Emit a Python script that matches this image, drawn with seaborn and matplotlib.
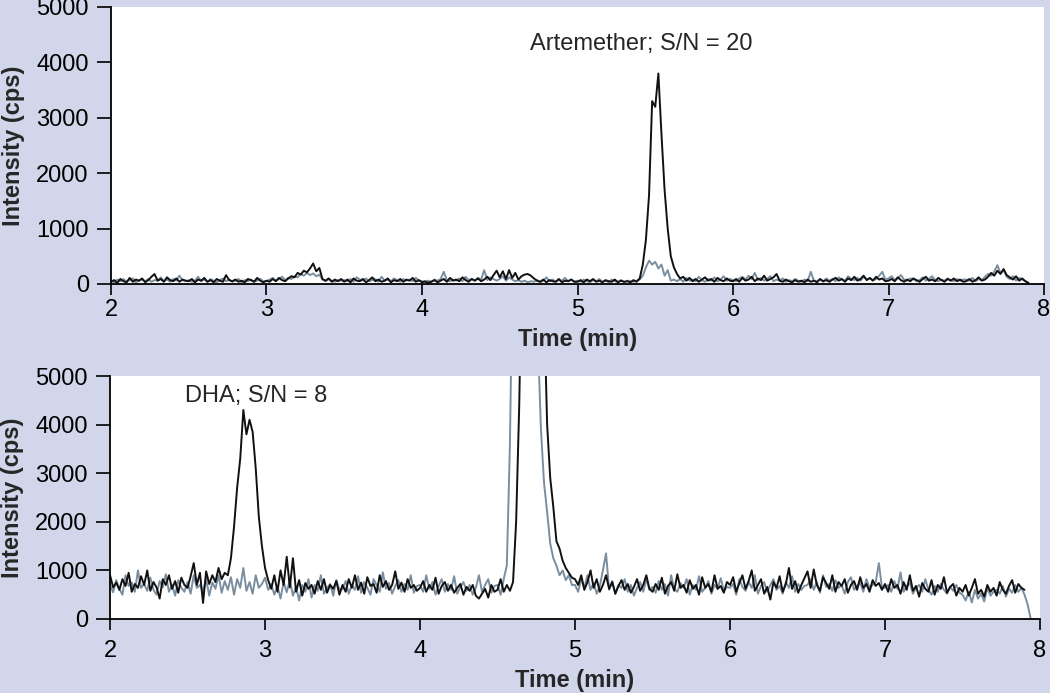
import numpy as np
import pandas as pd
import matplotlib.pyplot as plt
import seaborn as sns

nan = np.nan

# sampling grid of the chromatograms (min), 2.00 .. 7.98
time_min = np.round(2 + 0.02 * np.arange(300), 2)

# upper panel: artemether channel (cps), 25 points per 0.5 min
artemether_sample = [
    40, 70, 20, 90, 50, 30, 110, 40, 80, 60, 100, 30, 70, 130, 180, 60, 90, 40, 120, 70, 50, 100, 40, 80, 60,
    50, 90, 30, 80, 60, 110, 40, 70, 30, 90, 60, 40, 160, 70, 50, 80, 40, 60, 30, 90, 70, 40, 110, 60, 30,
    60, 40, 90, 50, 110, 70, 50, 100, 140, 120, 200, 170, 240, 210, 280, 370, 230, 290, 90, 60, 100, 40, 80, 50, 90,
    40, 80, 30, 100, 60, 50, 90, 30, 70, 120, 50, 80, 40, 60, 100, 30, 70, 50, 90, 40, 80, 60, 110, 40, 70,
    30, 50, 20, 40, 70, 30, 60, 90, 40, 110, 60, 80, 50, 120, 70, 40, 90, 60, 100, 50, 80, 130, 70, 160, 240,
    120, 230, 90, 250, 110, 200, 80, 140, 170, 180, 150, 100, 60, 40, 80, 30, 70, 50, 40, 90, 30, 60, 50, 80, 40,
    40, 70, 30, 80, 50, 90, 40, 60, 30, 70, 50, 40, 80, 30, 60, 40, 50, 30, 70, 40, 100, 350, 800, 1600, 3300,
    3200, 3800, 2700, 1700, 1000, 500, 300, 180, 100, 130, 60, 110, 50, 90, 40, 80, 120, 60, 90, 40, 110, 70, 50, 100, 60,
    50, 90, 40, 110, 60, 80, 130, 50, 100, 70, 150, 60, 90, 120, 180, 60, 40, 80, 50, 30, 70, 40, 60, 30, 80,
    40, 60, 30, 90, 50, 70, 40, 80, 110, 60, 90, 40, 100, 70, 130, 60, 90, 150, 70, 110, 60, 130, 80, 100, 50,
    60, 90, 50, 120, 70, 40, 80, 50, 100, 70, 40, 90, 130, 60, 80, 50, 110, 70, 40, 90, 60, 100, 50, 80, 40,
    50, 90, 40, 70, 120, 60, 80, 130, 200, 150, 240, 180, 270, 160, 120, 80, 140, 60, 100, 50, 20, nan, nan, nan, nan,
]
artemether_blank = [
    60, 30, 80, 50, 90, 40, 70, 100, 30, 60, 80, 50, 90, 40, 70, 60, 120, 50, 80, 40, 90, 60, 150, 70, 50,
    70, 40, 60, 130, 50, 80, 40, 90, 60, 30, 70, 100, 50, 80, 40, 60, 90, 30, 70, 50, 80, 40, 60, 90, 50,
    50, 80, 110, 60, 90, 130, 70, 110, 90, 140, 120, 180, 150, 200, 160, 190, 140, 170, 80, 50, 90, 60, 40, 70, 60,
    70, 50, 90, 40, 120, 80, 60, 100, 50, 70, 90, 40, 130, 60, 80, 50, 100, 70, 40, 90, 60, 80, 50, 110, 60,
    50, 30, 60, 40, 80, 60, 90, 220, 70, 50, 80, 60, 100, 50, 130, 70, 90, 60, 110, 80, 250, 70, 120, 90, 60,
    90, 140, 60, 120, 80, 50, 70, 40, 60, 30, 50, 40, 70, 30, 60, 120, 50, 80, 40, 70, 60, 110, 50, 80, 40,
    60, 40, 80, 50, 30, 70, 50, 90, 40, 60, 30, 80, 50, 40, 70, 30, 60, 50, 40, 60, 80, 150, 300, 420, 350,
    400, 280, 350, 150, 250, 60, 80, 50, 90, 40, 110, 60, 80, 50, 130, 70, 40, 90, 60, 120, 50, 80, 140, 60, 90,
    70, 50, 100, 130, 80, 150, 90, 200, 70, 110, 60, 90, 140, 50, 80, 60, 100, 40, 70, 50, 90, 60, 40, 80, 50,
    220, 60, 50, 80, 40, 100, 60, 90, 50, 120, 80, 60, 140, 90, 70, 110, 60, 130, 80, 100, 70, 90, 150, 220, 80,
    100, 140, 70, 110, 160, 80, 60, 100, 90, 50, 70, 120, 60, 90, 140, 70, 50, 80, 60, 100, 70, 50, 90, 60, 80,
    80, 60, 110, 50, 90, 70, 130, 180, 150, 220, 340, 200, 250, 130, 90, 140, 60, 110, 80, 50, 20, nan, nan, nan, nan,
]

# lower panel: DHA channel (cps)
dha_sample = [
    900, 650, 750, 600, 820, 680, 950, 560, 720, 640, 880, 700, 1000, 580, 760, 650, 420, 820, 700, 900, 620, 780, 540, 850, 700,
    640, 880, 1150, 700, 950, 330, 980, 720, 900, 760, 1050, 820, 950, 900, 1250, 1900, 2700, 3300, 4300, 3800, 4100, 3850, 3100, 2100, 1500,
    1050, 800, 620, 900, 560, 1000, 700, 1280, 650, 1250, 560, 800, 480, 740, 620, 700, 520, 780, 600, 820, 540, 700, 620, 780, 500,
    700, 560, 820, 640, 900, 600, 750, 520, 860, 680, 720, 540, 900, 660, 780, 600, 700, 980, 620, 750, 560, 820, 640, 700, 580,
    640, 780, 560, 700, 600, 850, 520, 680, 760, 580, 700, 540, 640, 720, 500, 660, 580, 700, 480, 420, 520, 620, 440, 700, 560,
    600, 820, 560, 700, 580, 760, 2000, 4400, 8000, 9500, 9800, 9900, 9700, 9200, 8000, 6500, 4000, 2900, 2300, 1600, 1450, 1200, 1050, 950, 850,
    820, 700, 900, 600, 760, 1000, 640, 820, 560, 700, 900, 620, 760, 520, 680, 800, 600, 720, 540, 660, 820, 580, 700, 900, 620,
    560, 720, 600, 850, 520, 680, 760, 580, 920, 640, 700, 540, 800, 620, 700, 500, 860, 640, 720, 560, 900, 620, 680, 540, 760,
    700, 860, 560, 740, 900, 620, 780, 1000, 580, 700, 820, 520, 660, 400, 760, 640, 880, 560, 720, 1050, 620, 780, 540, 700, 840,
    980, 640, 1020, 700, 580, 860, 740, 620, 900, 560, 760, 680, 820, 540, 700, 780, 600, 860, 640, 720, 560, 800, 680, 740, 600,
    720, 560, 820, 640, 700, 520, 760, 600, 900, 580, 680, 460, 740, 620, 560, 800, 500, 700, 620, 860, 540, 660, 720, 480, 640,
    560, 700, 480, 640, 820, 520, 600, 460, 700, 560, 640, 480, 760, 600, 520, 680, 800, 540, 720, 640, 600, nan, nan, nan, nan,
]
dha_blank = [
    700, 550, 800, 620, 500, 900, 680, 750, 560, 1000, 640, 720, 580, 850, 600, 500, 780, 650, 920, 560, 700, 480, 800, 640, 560,
    760, 520, 900, 640, 700, 560, 820, 480, 750, 620, 900, 540, 780, 600, 860, 500, 820, 640, 1050, 580, 760, 520, 900, 640, 720,
    850, 600, 720, 500, 680, 420, 760, 550, 800, 480, 660, 380, 700, 560, 820, 440, 700, 580, 900, 520, 640, 720, 480, 800, 600,
    620, 780, 520, 700, 600, 880, 540, 760, 640, 500, 820, 700, 560, 960, 620, 740, 520, 680, 800, 560, 720, 600, 900, 540, 680,
    700, 560, 900, 620, 760, 500, 680, 820, 560, 720, 600, 880, 520, 660, 760, 580, 700, 500, 640, 900, 560, 700, 820, 540, 680,
    700, 500, 820, 1100, 3600, 8000, 9500, 9900, 9800, 9600, 9000, 8200, 7000, 5800, 3900, 2800, 2200, 1550, 1250, 1100, 900, 1000, 800, 900, 700,
    700, 560, 820, 640, 900, 600, 740, 520, 680, 1000, 1350, 600, 780, 520, 700, 640, 820, 560, 700, 480, 640, 760, 560, 820, 600,
    660, 540, 780, 600, 720, 480, 900, 620, 560, 740, 640, 820, 500, 700, 600, 880, 560, 640, 780, 520, 700, 620, 840, 580, 660,
    640, 720, 500, 820, 660, 580, 760, 640, 900, 520, 680, 760, 560, 700, 820, 600, 680, 520, 760, 640, 880, 560, 720, 600, 680,
    700, 820, 600, 760, 540, 900, 660, 720, 580, 800, 640, 700, 520, 760, 860, 600, 680, 740, 560, 820, 640, 700, 760, 1150, 650,
    640, 700, 560, 780, 620, 960, 560, 680, 740, 520, 640, 700, 560, 820, 600, 500, 680, 560, 720, 600, 520, 660, 580, 700, 540,
    500, 380, 560, 340, 600, 420, 520, 360, 640, 480, 560, 600, 520, 680, 460, 620, 540, 700, 560, 640, 500, 300, 0, nan, nan,
]

x_ticks = [2, 3, 4, 5, 6, 7, 8]
y_ticks = [0, 1000, 2000, 3000, 4000, 5000]

BG = '#d1d6ea'
GRAY = '#7b8ea0'
BLACK = '#111111'
FS = 17

sns.set_style("white")
plt.rcParams['font.family'] = ['Liberation Sans', 'DejaVu Sans']

fig = plt.figure(figsize=(10.5, 6.93), dpi=100, facecolor=BG)
ax1 = fig.add_axes([0.1057, 0.5902, 0.8886, 0.3997])
ax2 = fig.add_axes([0.1048, 0.1068, 0.8857, 0.3506])

panels = [
    (ax1, artemether_sample, artemether_blank, 3, -0.202),
    (ax2, dha_sample, dha_blank, 7, -0.255),
]
for ax, sample, blank, xpad, xlab_y in panels:
    df = pd.DataFrame({'time': time_min, 'blank': blank, 'sample': sample})
    df = df.melt(id_vars='time', var_name='trace', value_name='cps')
    sns.lineplot(data=df, x='time', y='cps', hue='trace', hue_order=['blank', 'sample'],
                 palette={'blank': GRAY, 'sample': BLACK}, estimator=None, sort=False,
                 linewidth=1.4, legend=False, ax=ax)
    ax.set_facecolor('white')
    ax.set_xlim(2, 8)
    ax.set_ylim(0, 5000)
    ax.set_xticks(x_ticks)
    ax.set_yticks(y_ticks)
    for side in ['top', 'right']:
        ax.spines[side].set_visible(False)
    for side in ['left', 'bottom']:
        ax.spines[side].set_color('black')
        ax.spines[side].set_linewidth(1.3)
    ax.tick_params(axis='y', direction='out', length=10, width=1.2, pad=6,
                   labelsize=FS, colors='black', left=True)
    ax.tick_params(axis='x', direction='out', length=8, width=1.2, pad=xpad,
                   labelsize=FS, colors='black', bottom=True)
    ax.set_xlabel('Time (min)', fontsize=FS, fontweight='bold', va='center')
    ax.xaxis.set_label_coords(0.5, xlab_y)
    ax.set_ylabel('Intensity (cps)', fontsize=FS, fontweight='bold', va='center')
    ax.yaxis.set_label_coords(-0.105, 0.5)

ax1.text(5.41, 4220, 'Artemether; S/N = 20', ha='center', va='baseline', fontsize=FS)
ax2.text(2.94, 4470, 'DHA; S/N = 8', ha='center', va='baseline', fontsize=FS)

fig.savefig('out.png', dpi=100, facecolor=BG)
